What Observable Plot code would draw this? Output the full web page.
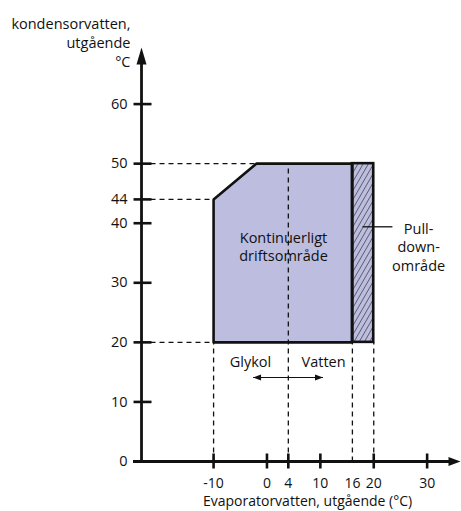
<!DOCTYPE html>
<html>
<head>
<meta charset="utf-8">
<script src="https://cdn.jsdelivr.net/npm/d3@7"></script>
<script src="https://cdn.jsdelivr.net/npm/@observablehq/plot@0.6"></script>
<style>
  html, body { margin: 0; padding: 0; background: #fff; }
  #chart svg { display: block; }
</style>
</head>
<body>
<div id="chart"></div>
<script>
// ---- data ----
const yTickValues = [0, 10, 20, 30, 40, 44, 50, 60];
const xTickMarks = [-10, 0, 4, 10, 20, 30];
const xTickLabels = [-10, 0, 4, 10, 16, 20, 30];
const xAxisExtent = [-25, 36.25];
const yAxisExtent = [0, 69.5];
const yAxisAt = -23.5;
// continuous operating region (polygon corners)
const regionX = [-10, -10, -2, 16, 16, -10];
const regionY = [20, 44, 50, 50, 20, 20];
// pull-down region
const pullX = [16, 20];
const pullY = [20, 50];
// dashed reference lines
const hDashY = [50, 44, 20];
const hDashTo = [-2, -10, -10];
const vDashX = [-10, 4, 16, 20];
const vDashTo = [20, 50, 20, 20];
// labels
const xTitle = "Evaporatorvatten, utgående (°C)";
const yTitle = "kondensorvatten,\nutgående\n°C";
const regionLabel = "Kontinuerligt\ndriftsområde";
const pullLabel = "Pull-\ndown-\nområde";
const glykolLabel = "Glykol";
const vattenLabel = "Vatten";
const pullLeader = [{x1: 17.9, x2: 23.5, y: 39.4}];
const glykolVattenArrow = [{x1: -2.6, x2: 10.5, y: 14.1}];

// ---- derived tables ----
const region = regionX.map((x, i) => ({x, y: regionY[i]}));
const pull = [{x1: pullX[0], x2: pullX[1], y1: pullY[0], y2: pullY[1]}];
const hDash = hDashY.map((y, i) => ({y, x1: yAxisAt, x2: hDashTo[i]}));
const vDash = vDashX.map((x, i) => ({x, y1: 0, y2: vDashTo[i]}));
const arrowEnds = glykolVattenArrow.flatMap(d => [{x: d.x1, y: d.y, r: -90}, {x: d.x2, y: d.y, r: 90}]);

const FILL = "#bcbddf";
const INK = "#111";
const FS = 14.5;
const FSX = 14;

const upArrow = {draw(ctx) { ctx.moveTo(0, 0); ctx.lineTo(-5, 17); ctx.lineTo(5, 17); ctx.closePath(); }};
const rightArrow = {draw(ctx) { ctx.moveTo(0, 0); ctx.lineTo(-4.5, 12); ctx.lineTo(4.5, 12); ctx.closePath(); }};
const smallHead = {draw(ctx) { ctx.moveTo(0, 0); ctx.lineTo(-3, 8); ctx.lineTo(3, 8); ctx.closePath(); }};
const yTickSym = {draw(ctx) { ctx.moveTo(-8, 0); ctx.lineTo(10, 0); }};
const xTickSym = {draw(ctx) { ctx.moveTo(0, -8); ctx.lineTo(0, 7); }};

const chart = Plot.plot({
  width: 461,
  height: 511,
  margin: 0,
  style: {fontFamily: "'Open Sans', sans-serif", fontSize: FS + "px", color: INK, background: "#fff"},
  x: {domain: xAxisExtent, range: [133, 460], axis: null},
  y: {domain: yAxisExtent, range: [461, 47], axis: null},
  marks: [
    // fills
    Plot.line(region, {x: "x", y: "y", fill: FILL, stroke: "none"}),
    Plot.rect(pull, {x1: "x1", x2: "x2", y1: "y1", y2: "y2", fill: FILL}),
    Plot.rect(pull, {x1: "x1", x2: "x2", y1: "y1", y2: "y2", fill: "url(#hatch)"}),
    // dashed reference lines
    Plot.link(hDash, {x1: "x1", x2: "x2", y1: "y", y2: "y", stroke: INK, strokeWidth: 1.3, strokeDasharray: "5,4"}),
    Plot.link(vDash, {x1: "x", x2: "x", y1: "y1", y2: "y2", stroke: INK, strokeWidth: 1.3, strokeDasharray: "5,4"}),
    // outlines
    Plot.line(region, {x: "x", y: "y", stroke: INK, strokeWidth: 2.6, strokeLinejoin: "miter"}),
    Plot.rect(pull, {x1: "x1", x2: "x2", y1: "y1", y2: "y2", fill: "none", stroke: INK, strokeWidth: 2.6}),
    // axes
    Plot.ruleY([0], {x1: xAxisExtent[0], x2: xAxisExtent[1] - 2, stroke: INK, strokeWidth: 2.8}),
    Plot.ruleX([yAxisAt], {y1: yAxisExtent[0], y2: yAxisExtent[1] - 2, stroke: INK, strokeWidth: 2.8}),
    Plot.dot([yAxisExtent[1]], {x: () => yAxisAt, y: d => d, symbol: upArrow, fill: INK, stroke: "none"}),
    Plot.dot([xAxisExtent[1]], {x: d => d, y: () => 0, symbol: rightArrow, rotate: 90, fill: INK, stroke: "none"}),
    Plot.dot(yTickValues.filter(d => d !== 0), {x: () => yAxisAt, y: d => d, symbol: yTickSym, fill: "none", stroke: INK, strokeWidth: 2.6}),
    Plot.dot(xTickMarks, {x: d => d, y: () => 0, symbol: xTickSym, fill: "none", stroke: INK, strokeWidth: 2.6}),
    // tick labels
    Plot.text(yTickValues, {x: () => yAxisAt, y: d => d, text: d => String(d), dx: -14, textAnchor: "end", fill: INK, fontSize: FS}),
    Plot.text(xTickLabels, {x: d => d, y: () => 0, text: d => String(d), dy: 22, fill: INK, fontSize: FSX}),
    // titles
    Plot.text([xTitle], {x: () => 7.6, y: () => 0, text: d => d, dy: 40.5, fill: INK, fontSize: FSX}),
    Plot.text([yTitle], {x: () => yAxisAt, y: () => yAxisExtent[1], text: d => d, dx: -11, dy: -6, textAnchor: "end", lineHeight: 1.31, fill: INK, fontSize: FS}),
    // annotations
    Plot.text([regionLabel], {x: () => 3.1, y: () => 36.1, text: d => d, lineHeight: 1.24, fill: INK, fontSize: FS}),
    Plot.text([pullLabel], {x: () => 28.4, y: () => 36.1, text: d => d, lineHeight: 1.28, fill: INK, fontSize: FS}),
    Plot.link(pullLeader, {x1: "x1", x2: "x2", y1: "y", y2: "y", stroke: INK, strokeWidth: 1.3}),
    Plot.text([glykolLabel], {x: () => -3.1, y: () => 16.6, text: d => d, fill: INK, fontSize: FS}),
    Plot.text([vattenLabel], {x: () => 10.6, y: () => 16.6, text: d => d, fill: INK, fontSize: FS}),
    Plot.link(glykolVattenArrow, {x1: "x1", x2: "x2", y1: "y", y2: "y", stroke: INK, strokeWidth: 1.2}),
    Plot.dot(arrowEnds, {x: "x", y: "y", rotate: "r", symbol: smallHead, fill: INK, stroke: "none"})
  ]
});

d3.select(chart).insert("defs", ":first-child").html(
  '<pattern id="hatch" patternUnits="userSpaceOnUse" width="4.5" height="10" patternTransform="rotate(30)">' +
  '<line x1="0" y1="0" x2="0" y2="10" stroke="#222" stroke-width="1.1"/></pattern>'
);

document.getElementById("chart").appendChild(chart);
</script>
</body>
</html>
